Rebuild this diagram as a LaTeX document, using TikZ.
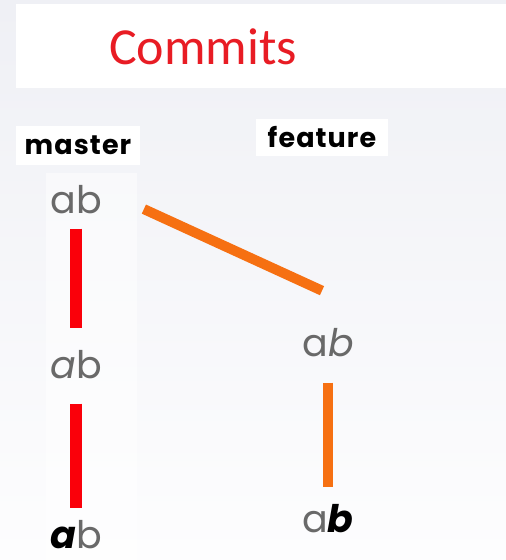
\documentclass[tikz,border=0pt]{standalone}
\usepackage{fontspec}
\newfontfamily\gothic{Poppins}
\newfontfamily\gothicwide[LetterSpace = 4]{Poppins}
\newfontfamily\calib{Carlito}

\definecolor{bgtop}{RGB}{239,240,245}
\definecolor{bgbottom}{RGB}{253,253,254}
\definecolor{titlered}{RGB}{232,28,36}
\definecolor{masterred}{RGB}{250,0,10}
\definecolor{featureorange}{RGB}{246,112,18}
\definecolor{commitgray}{RGB}{105,105,105}

\begin{document}
\begin{tikzpicture}[x = 1pt, y = -1pt,
	commit/.style = {inner sep = 0pt, text = commitgray, font = \gothic\fontsize{38}{38}\selectfont},
	branch/.style = {fill = white, inner sep = 0pt, font = \gothicwide\bfseries\fontsize{27}{27}\selectfont},
	masterline/.style = {masterred, line width = 12pt},
	featureline/.style = {featureorange, line width = 10pt}]

% The background

\useasboundingbox (0, 0) rectangle (506, 560);
\shade [top color = bgtop, bottom color = bgbottom] (0, 0) rectangle (506, 560);
\fill [white] (16, 4) rectangle (506, 88);
\fill [white, opacity = 0.5] (46, 173) rectangle (137, 560);

% The title

\node (title) [text = titlered, inner sep = 0pt, font = \calib\fontsize{52}{52}\selectfont] at (203, 47) {Commits};

% The branches

\node (master) [branch, minimum width = 124pt, minimum height = 39pt] at (78, 145.5) {master};
\node (feature) [branch, minimum width = 132pt, minimum height = 37pt] at (322, 137.5) {feature};

% Commits on master

\node (m1) [commit, anchor = base] at (76, 213) {ab};
\node (m2) [commit, anchor = base] at (76, 378) {\itshape a\upshape b};
\node (m3) [commit, anchor = base] at (76, 548) {\textcolor{black}{\bfseries\itshape a}b};

% Commits on feature

\node (f1) [commit, anchor = base] at (328, 356) {a\itshape b};
\node (f2) [commit, anchor = base] at (328, 532) {a\textcolor{black}{\bfseries\itshape b}};

% The connectors

\draw [masterline, shorten < = 15pt, shorten > = 22pt] (m1.south) -- (m2.north);
\draw [masterline, shorten < = 25pt, shorten > = 12pt] (m2.south) -- (m3.north);
\draw [featureline] ([xshift = 42pt, yshift = -10pt] m1.east) -- ([xshift = -6pt, yshift = 37pt] f1.north);
\draw [featureline, shorten < = 26pt, shorten > = 17pt] (f1.south) -- (f2.north);

\end{tikzpicture}
\end{document}
